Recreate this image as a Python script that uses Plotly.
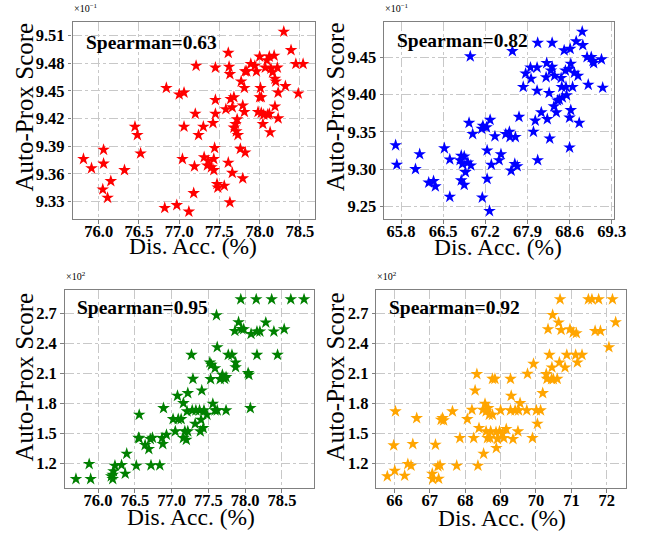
import plotly.graph_objects as go

# ---------------- data ----------------
x_red = [75.81, 75.91, 76.06, 76.06, 76.05, 76.11, 76.15, 76.32, 76.45, 76.48, 76.52, 76.82, 76.84, 76.97,
         77.00, 77.06, 77.04, 77.06, 77.12, 77.18, 77.19, 77.20, 77.21, 77.24, 77.30, 77.31, 77.36, 77.35,
         77.40, 77.42, 77.43, 77.43, 77.44, 77.45, 77.45, 77.45, 77.47, 77.48, 77.56, 77.58, 77.61, 77.61,
         77.62, 77.63, 77.63, 77.66, 77.64, 77.66, 77.68, 77.68, 77.70, 77.71, 77.73, 77.72, 77.76, 77.77,
         77.79, 77.79, 77.81, 77.81, 77.82, 77.82, 77.84, 77.89, 77.94, 77.96, 77.98, 78.00, 78.00, 78.01,
         78.02, 78.04, 78.05, 78.07, 78.09, 78.10, 78.12, 78.12, 78.13, 78.14, 78.16, 78.18, 78.19, 78.19,
         78.20, 78.22, 78.23, 78.23, 78.30, 78.32, 78.39, 78.45, 78.48, 78.54, 78.02]
y_red = [9.376, 9.366, 9.386, 9.371, 9.343, 9.334, 9.352, 9.364, 9.411, 9.402, 9.382, 9.323, 9.453, 9.326,
         9.446, 9.448, 9.376, 9.411, 9.319, 9.339, 9.368, 9.425, 9.477, 9.402, 9.411, 9.378, 9.374, 9.369,
         9.367, 9.415, 9.364, 9.376, 9.388, 9.440, 9.425, 9.475, 9.349, 9.345, 9.347, 9.430, 9.491, 9.372,
         9.476, 9.468, 9.329, 9.361, 9.441, 9.432, 9.443, 9.410, 9.414, 9.406, 9.402, 9.419, 9.387, 9.460,
         9.434, 9.355, 9.453, 9.427, 9.383, 9.471, 9.471, 9.479, 9.477, 9.471, 9.427, 9.487, 9.443, 9.453,
         9.426, 9.414, 9.424, 9.475, 9.483, 9.424, 9.487, 9.425, 9.405, 9.474, 9.470, 9.488, 9.463, 9.433,
         9.460, 9.475, 9.448, 9.420, 9.514, 9.455, 9.494, 9.479, 9.447, 9.479, 9.443]

x_blue = [65.71, 65.73, 66.04, 66.11, 66.26, 66.34, 66.37, 66.52, 66.61, 66.61, 66.78, 66.80, 66.82, 66.80,
          66.85, 66.85, 66.87, 66.91, 66.93, 66.95, 66.96, 66.99, 67.14, 67.16, 67.15, 67.22, 67.23, 67.23,
          67.27, 67.28, 67.30, 67.36, 67.43, 67.46, 67.54, 67.60, 67.61, 67.63, 67.65, 67.69, 67.70, 67.73,
          67.76, 67.83, 67.87, 67.95, 67.96, 68.00, 68.03, 68.06, 68.06, 68.07, 68.07, 68.13, 68.21, 68.22,
          68.23, 68.26, 68.27, 68.29, 68.31, 68.31, 68.34, 68.35, 68.38, 68.40, 68.43, 68.46, 68.47, 68.48,
          68.51, 68.53, 68.54, 68.55, 68.59, 68.60, 68.60, 68.61, 68.62, 68.62, 68.65, 68.68, 68.71, 68.74,
          68.76, 68.81, 68.82, 68.89, 68.91, 68.96, 68.99, 69.00, 69.13, 69.15]
y_blue = [9.332, 9.306, 9.300, 9.320, 9.282, 9.284, 9.277, 9.328, 9.313, 9.263, 9.312, 9.318, 9.307, 9.285,
          9.279, 9.317, 9.296, 9.309, 9.362, 9.451, 9.305, 9.347, 9.354, 9.358, 9.262, 9.356, 9.325, 9.287,
          9.244, 9.366, 9.306, 9.344, 9.312, 9.320, 9.347, 9.350, 9.343, 9.298, 9.458, 9.307, 9.343, 9.304,
          9.370, 9.410, 9.428, 9.436, 9.421, 9.350, 9.365, 9.436, 9.405, 9.312, 9.469, 9.376, 9.423, 9.442,
          9.367, 9.402, 9.341, 9.432, 9.469, 9.437, 9.384, 9.425, 9.376, 9.392, 9.393, 9.422, 9.410, 9.396,
          9.459, 9.432, 9.410, 9.399, 9.434, 9.329, 9.369, 9.461, 9.441, 9.379, 9.410, 9.429, 9.471, 9.425,
          9.362, 9.484, 9.466, 9.450, 9.413, 9.450, 9.445, 9.442, 9.447, 9.409]

x_green = [75.70, 75.90, 75.88, 76.18, 76.20, 76.21, 76.23, 76.20, 76.32, 76.37, 76.39, 76.52, 76.56, 76.55,
           76.56, 76.64, 76.69, 76.71, 76.74, 76.72, 76.84, 76.87, 76.88, 76.89, 76.93, 77.02, 77.05, 77.08,
           77.09, 77.13, 77.16, 77.16, 77.18, 77.20, 77.21, 77.22, 77.22, 77.27, 77.28, 77.29, 77.32, 77.33,
           77.38, 77.39, 77.40, 77.41, 77.43, 77.44, 77.48, 77.52, 77.53, 77.54, 77.56, 77.59, 77.59, 77.61,
           77.62, 77.62, 77.66, 77.69, 77.72, 77.74, 77.74, 77.77, 77.82, 77.87, 77.87, 77.86, 77.91, 77.95,
           77.98, 77.94, 78.04, 78.05, 78.07, 78.08, 78.15, 78.16, 78.16, 78.20, 78.28, 78.36, 78.39, 78.44,
           78.53, 78.62, 78.80]
y_green = [1.040, 1.040, 1.190, 1.067, 1.040, 1.117, 1.173, 1.083, 1.180, 1.093, 1.293, 1.173, 1.683, 1.453,
           1.447, 1.380, 1.340, 1.440, 1.453, 1.177, 1.177, 1.450, 1.390, 1.750, 1.483, 1.640, 1.517, 1.873,
           1.640, 1.640, 1.450, 1.800, 1.517, 1.433, 1.717, 1.900, 1.517, 2.283, 1.727, 2.043, 1.593, 1.727,
           1.727, 1.517, 1.633, 1.927, 1.550, 1.727, 1.683, 2.207, 2.040, 2.183, 1.793, 1.727, 2.150, 2.680,
           2.360, 1.727, 2.040, 2.083, 2.043, 1.727, 2.060, 2.283, 2.283, 2.207, 2.160, 2.523, 2.610, 2.543,
           2.540, 2.840, 2.100, 2.083, 1.750, 2.493, 2.840, 2.517, 2.283, 2.517, 2.607, 2.840, 2.517, 2.283,
           2.540, 2.840, 2.840]

x_orange = [65.80, 66.01, 66.03, 65.98, 66.29, 66.38, 66.47, 66.52, 66.63, 67.07, 67.08, 67.16, 67.25, 67.23,
            67.29, 67.32, 67.36, 67.39, 67.64, 67.76, 67.85, 68.06, 68.19, 68.24, 68.28, 68.33, 68.36, 68.39,
            68.50, 68.52, 68.56, 68.59, 68.59, 68.63, 68.65, 68.68, 68.70, 68.72, 68.77, 68.77, 68.84, 68.87,
            68.88, 68.91, 68.97, 69.00, 69.05, 69.09, 69.16, 69.28, 69.28, 69.30, 69.35, 69.41, 69.49, 69.51,
            69.55, 69.74, 69.76, 69.90, 69.93, 70.01, 70.04, 70.13, 70.19, 70.29, 70.31, 70.34, 70.38, 70.44,
            70.45, 70.47, 70.49, 70.60, 70.64, 70.66, 70.68, 70.71, 70.82, 70.87, 70.96, 71.05, 71.12, 71.14,
            71.17, 71.30, 71.48, 71.58, 71.67, 71.77, 71.82, 72.06, 72.16, 72.25]
y_orange = [1.067, 1.123, 1.717, 1.377, 1.073, 1.190, 1.173, 1.390, 1.650, 1.093, 1.040, 1.383, 1.043, 1.167,
            1.177, 1.633, 1.650, 1.627, 1.717, 1.173, 1.450, 1.640, 1.733, 1.450, 1.927, 2.090, 1.173, 1.550,
            1.733, 1.293, 1.793, 1.517, 1.717, 1.450, 1.750, 1.683, 1.450, 1.517, 1.683, 2.043, 2.043, 1.510,
            1.350, 1.440, 1.517, 1.727, 1.493, 1.450, 1.540, 2.043, 1.727, 1.873, 1.440, 1.727, 1.517, 1.727,
            1.800, 1.727, 2.093, 1.450, 2.193, 1.727, 1.593, 1.727, 1.900, 2.090, 2.043, 2.540, 2.283, 2.040,
            2.157, 2.683, 2.040, 2.043, 2.607, 2.207, 2.840, 2.533, 2.157, 2.283, 2.540, 2.507, 2.283, 2.500,
            2.207, 2.283, 2.840, 2.840, 2.523, 2.840, 2.523, 2.360, 2.840, 2.610]

spearman_labels = ["Spearman=0.63", "Spearman=0.82", "Spearman=0.95", "Spearman=0.92"]
exponent_labels = ["×10<sup>−1</sup>", "×10<sup>−1</sup>", "×10<sup>2</sup>", "×10<sup>2</sup>"]
x_title = "Dis. Acc. (%)"
y_title = "Auto-Prox Score"

xticks_1 = [76.0, 76.5, 77.0, 77.5, 78.0, 78.5]
yticks_1 = [9.33, 9.36, 9.39, 9.42, 9.45, 9.48, 9.51]
xticks_2 = [65.8, 66.5, 67.2, 67.9, 68.6, 69.3]
yticks_2 = [9.25, 9.30, 9.35, 9.40, 9.45]
xticks_3 = [76.0, 76.5, 77.0, 77.5, 78.0, 78.5]
yticks_3 = [1.2, 1.5, 1.8, 2.1, 2.4, 2.7]
xticks_4 = [66, 67, 68, 69, 70, 71, 72]
yticks_4 = [1.2, 1.5, 1.8, 2.1, 2.4, 2.7]

# ---------------- styling / layout ----------------
W, H = 652, 536
FONT = "Liberation Serif, Times New Roman, serif"

panels = [
    dict(x=x_red, y=y_red, color="#ff0000", xt=xticks_1, yt=yticks_1, xfmt=".1f", yfmt=".2f",
         px=(74, 321), py=(22, 219), xr=(75.674, 78.683), yr=(9.311, 9.5245),
         sp=(87, 43), xtl=(197, 246), ytl=(24, 107)),
    dict(x=x_blue, y=y_blue, color="#0000ff", xt=xticks_2, yt=yticks_2, xfmt=".1f", yfmt=".2f",
         px=(392, 626), py=(22, 219), xr=(65.52, 69.33), yr=(9.2333, 9.497),
         sp=(404, 40), xtl=(508, 247), ytl=(342, 107)),
    dict(x=x_green, y=y_green, color="#008000", xt=xticks_3, yt=yticks_3, xfmt=".1f", yfmt=".1f",
         px=(66, 320), py=(290, 488), xr=(75.547, 78.93), yr=(0.95, 2.933),
         sp=(78, 307), xtl=(195, 517), ytl=(24, 377)),
    dict(x=x_orange, y=y_orange, color="#ffa500", xt=xticks_4, yt=yticks_4, xfmt="d", yfmt=".1f",
         px=(384, 639), py=(290, 488), xr=(65.49, 72.55), yr=(0.95, 2.933),
         sp=(396, 307), xtl=(512, 518), ytl=(342, 377)),
]

fig = go.Figure()
annotations = []
layout_axes = {}
for i, p in enumerate(panels, start=1):
    sx = "" if i == 1 else str(i)
    fig.add_trace(go.Scatter(
        x=p["x"], y=p["y"], mode="markers", xaxis="x" + sx, yaxis="y" + sx,
        marker=dict(symbol="star", size=9.5, color=p["color"], line=dict(width=0)),
        showlegend=False, hoverinfo="skip"))
    xd = [p["px"][0] / W, p["px"][1] / W]
    yd = [1 - p["py"][1] / H, 1 - p["py"][0] / H]
    if p["xfmt"] == "d":
        xtt = ["<b>" + str(int(v)) + "</b>" for v in p["xt"]]
    else:
        xtt = ["<b>" + format(v, p["xfmt"]) + "</b>" for v in p["xt"]]
    ytt = ["<b>" + format(v, p["yfmt"]) + "</b>" for v in p["yt"]]
    common = dict(showline=True, mirror=True, linecolor="#808080", linewidth=1.2,
                  showgrid=True, gridcolor="#c8c8c8", griddash="dashdot", gridwidth=1,
                  ticks="outside", ticklen=3.5, tickcolor="#808080", zeroline=False,
                  tickfont=dict(family=FONT, size=16.5, color="black"))
    layout_axes["xaxis" + sx] = dict(
        domain=xd, range=list(p["xr"]), anchor="y" + sx, tickmode="array",
        tickvals=p["xt"], ticktext=xtt, ticklabelstandoff=-6, **common)
    layout_axes["yaxis" + sx] = dict(
        domain=yd, range=list(p["yr"]), anchor="x" + sx, tickmode="array",
        tickvals=p["yt"], ticktext=ytt, **common)
    # correlation label
    annotations.append(dict(
        text="<b>" + spearman_labels[i - 1] + "</b>", xref="paper", yref="paper",
        x=p["sp"][0] / W, y=1 - p["sp"][1] / H, xanchor="left", yanchor="middle",
        showarrow=False, borderpad=0, font=dict(family=FONT, size=19.5, color="black")))
    # exponent label
    annotations.append(dict(
        text=exponent_labels[i - 1], xref="x" + sx + " domain", yref="y" + sx + " domain",
        x=0.0, y=1.0, xanchor="left", yanchor="bottom", yshift=7, showarrow=False, borderpad=0,
        font=dict(family=FONT, size=10, color="black")))
    # axis titles
    annotations.append(dict(
        text=x_title, xref="paper", yref="paper", x=p["xtl"][0] / W, y=1 - p["xtl"][1] / H,
        xanchor="center", yanchor="middle", showarrow=False, borderpad=0,
        font=dict(family=FONT, size=23.5, color="black")))
    annotations.append(dict(
        text=y_title, xref="paper", yref="paper", x=p["ytl"][0] / W, y=1 - p["ytl"][1] / H,
        xanchor="center", yanchor="middle", textangle=-90, showarrow=False, borderpad=0,
        font=dict(family=FONT, size=25, color="black")))

fig.update_layout(
    width=W, height=H, margin=dict(l=0, r=0, t=0, b=0),
    paper_bgcolor="white", plot_bgcolor="white",
    annotations=annotations, **layout_axes)

fig.write_html("out.html", config={"displayModeBar": False},
               post_script="document.body.style.margin='0';document.body.style.padding='0';"
                           "document.documentElement.style.overflow='hidden';")
